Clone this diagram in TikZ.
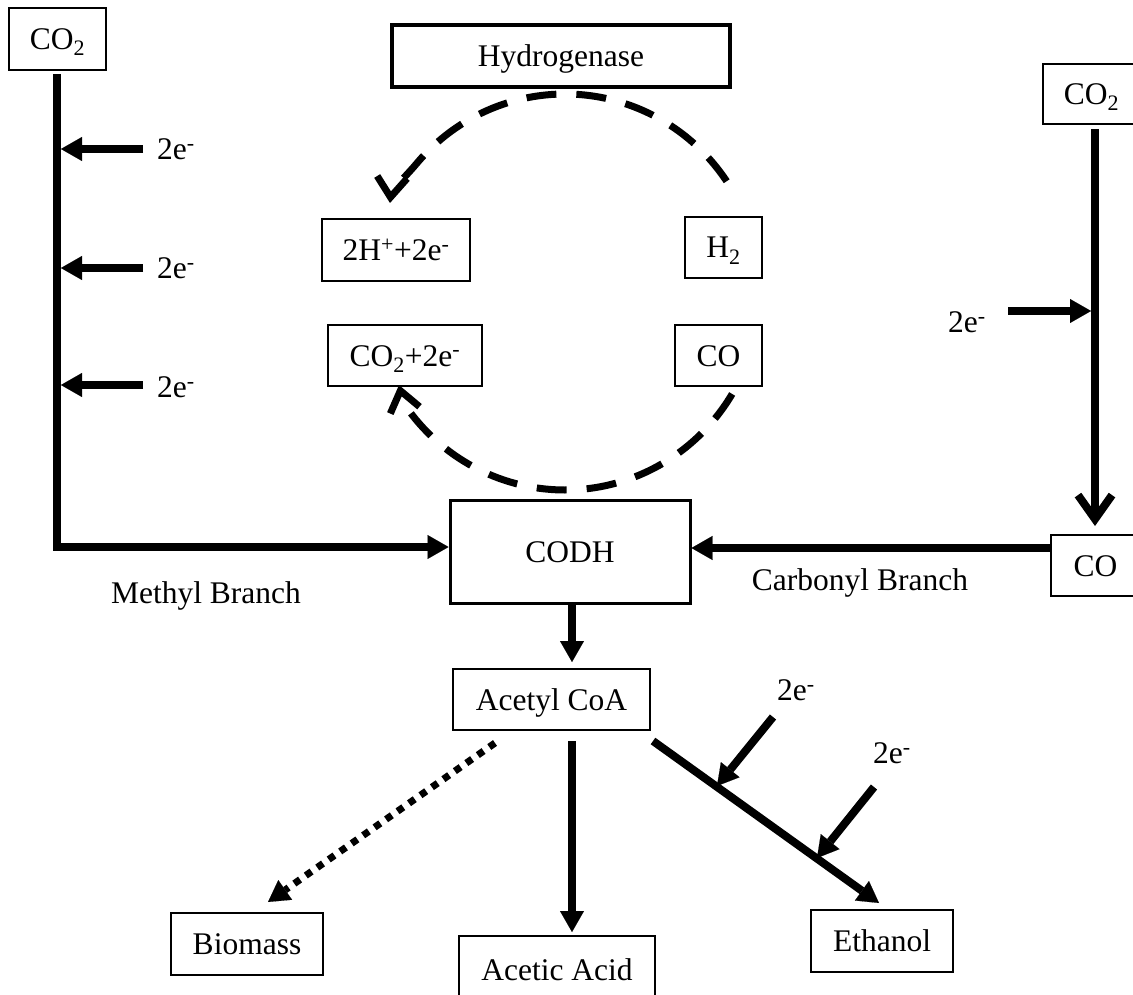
\documentclass[tikz,border=0pt]{standalone}
\usepackage{fontspec}
\setmainfont{Liberation Serif}
\usetikzlibrary{arrows.meta}
\begin{document}
\begin{tikzpicture}[x=1pt,y=1pt,
  font=\fontsize{31.5}{36}\selectfont,
  box/.style={draw, line width=2pt, inner sep=0pt, text height=21pt, text depth=0pt},
  lbl/.style={inner sep=0pt, text height=21pt, text depth=0pt},
  flow/.style={line width=8pt, -{Triangle[length=21pt,width=24pt,line width=0.1pt]}},
  biopath/.style={line width=7pt, dash pattern=on 7pt off 7pt,
    -{Triangle[length=21pt,width=24pt,line width=0.1pt]}},
  cyc/.style={line width=7pt, dash pattern=on 30pt off 20pt,
    -{Straight Barb[length=20pt,width=30pt]}},
  reduce/.style={line width=8pt, -{Straight Barb[length=24pt,width=34pt]}}]
\useasboundingbox (0,0) rectangle (1133,-995);

% boxes
\node[box, minimum width=97pt, minimum height=62pt] (co2L) at (57.5,-39) {CO\textsubscript{2}};
\node[box, line width=3.5pt, minimum width=338pt, minimum height=62pt] (hyd) at (561,-56) {Hydrogenase};
\node[box, minimum width=148pt, minimum height=62pt] (hplus) at (396,-250) {2H\textsuperscript{+}+2e\textsuperscript{-}};
\node[box, minimum width=77pt, minimum height=61pt] (h2) at (723.5,-247.5) {H\textsubscript{2}};
\node[box, minimum width=154pt, minimum height=61pt] (co2e) at (405,-355.5) {CO\textsubscript{2}+2e\textsuperscript{-}};
\node[box, minimum width=87pt, minimum height=61pt] (coM) at (718.5,-355.5) {CO};
\node[box, line width=3pt, minimum width=240pt, minimum height=103pt] (codh) at (570,-551.5) {CODH};
\node[box, minimum width=97pt, minimum height=60pt] (co2R) at (1091.5,-94) {CO\textsubscript{2}};
\node[box, minimum width=89pt, minimum height=61pt] (coR) at (1095.5,-565.5) {CO};
\node[box, minimum width=197pt, minimum height=61pt] (acetyl) at (551.5,-699.5) {Acetyl CoA};
\node[box, minimum width=196pt, minimum height=68pt] (acetic) at (557,-970) {Acetic Acid};
\node[box, minimum width=142pt, minimum height=62pt] (ethanol) at (882,-941) {Ethanol};
\node[box, minimum width=152pt, minimum height=62pt] (biomass) at (247,-944) {Biomass};

% branch labels
\node[inner sep=0pt, anchor=base] (methyl) at (206,-603) {Methyl Branch};
\node[inner sep=0pt, anchor=base] (carbonyl) at (860,-590) {Carbonyl Branch};

% electron labels
\node[lbl, anchor=west] (eL1) at (157,-149) {2e\textsuperscript{-}};
\node[lbl, anchor=west] (eL2) at (157,-268) {2e\textsuperscript{-}};
\node[lbl, anchor=west] (eL3) at (157,-387) {2e\textsuperscript{-}};
\node[lbl, anchor=west] (eR) at (948,-322) {2e\textsuperscript{-}};
\node[lbl, anchor=west] (eE1) at (777,-690) {2e\textsuperscript{-}};
\node[lbl, anchor=west] (eE2) at (873,-753) {2e\textsuperscript{-}};

% helper coordinates
\coordinate (mrow) at (0,-547);
\coordinate (crow) at (0,-548);
\coordinate (colx) at (572,0);
\coordinate (rx) at (1095,0);
\coordinate (sL1) at (143,-149);  \coordinate (tL1) at (61,-149);
\coordinate (sL2) at (143,-268);  \coordinate (tL2) at (61,-268);
\coordinate (sL3) at (143,-385);  \coordinate (tL3) at (61,-385);
\coordinate (sR) at (1008,-311);  \coordinate (tR) at (1091,-311);
\coordinate (sE1) at (773,-717);  \coordinate (tE1) at (717,-786);
\coordinate (sE2) at (874,-787);  \coordinate (tE2) at (817,-858);
\coordinate (cyc) at (565,-292);
\coordinate (tipTop) at (390,-203);
\coordinate (tipBot) at (399,-385);

% methyl branch
\draw[flow] ([yshift=-3pt]co2L.south -| 57,0) |- (codh.west |- mrow);
\draw[flow] (sL1) -- (tL1);
\draw[flow] (sL2) -- (tL2);
\draw[flow] (sL3) -- (tL3);

% carbonyl branch
\draw[reduce] ([yshift=-4pt]co2R.south -| rx) -- ([yshift=8pt]coR.north -| rx);
\draw[flow] (sR) -- (tR);
\draw[flow] (coR.west |- crow) -- (codh.east |- crow);

% hydrogenase cycle
\draw[cyc] (cyc) ++(34:195pt and 198pt)
  arc[start angle=34, end angle=140, x radius=195pt, y radius=198pt]
  .. controls (409.2,-172.4) and (391,-191) .. (tipTop);
\draw[cyc] (cyc) ++(-31:195pt and 198pt)
  arc[start angle=-31, end angle=-145, x radius=195pt, y radius=198pt]
  .. controls (403,-402) .. (tipBot);

% products
\draw[flow] (codh.south -| colx) -- ([yshift=6pt]acetyl.north -| colx);
\draw[flow] ([yshift=-10pt]acetyl.south -| colx) -- ([yshift=3pt]acetic.north -| colx);
\draw[flow] ([shift={(2pt,-10pt)}]acetyl.south east) -- ([shift={(-3pt,6pt)}]ethanol.north);
\draw[flow] (sE1) -- (tE1);
\draw[flow] (sE2) -- (tE2);
\draw[biopath] ([shift={(-56.5pt,-12pt)}]acetyl.south) -- ([shift={(21pt,10pt)}]biomass.north);
\end{tikzpicture}
\end{document}
